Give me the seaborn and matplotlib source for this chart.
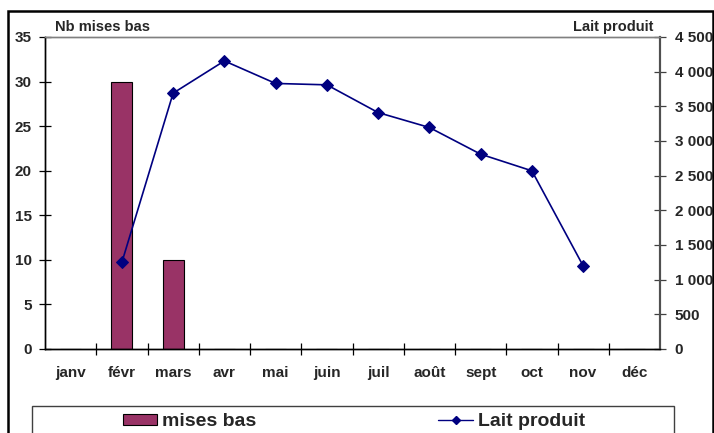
import numpy as np
import pandas as pd
import matplotlib
matplotlib.use("Agg")
import matplotlib.pyplot as plt
from matplotlib.patches import Rectangle
from matplotlib.lines import Line2D
from matplotlib.ticker import FuncFormatter, FixedLocator
import seaborn as sns

months = ["janv", "févr", "mars", "avr", "mai", "juin", "juil", "août", "sept", "oct", "nov", "déc"]
mises_bas = [0, 30, 10, 0, 0, 0, 0, 0, 0, 0, 0, 0]
lait_produit = [np.nan, 1250, 3690, 4155, 3830, 3810, 3410, 3195, 2810, 2570, 1200, np.nan]
left_ticks = [0, 5, 10, 15, 20, 25, 30, 35]
right_ticks = [0, 500, 1000, 1500, 2000, 2500, 3000, 3500, 4000, 4500]

sns.set_theme(style="white")
plt.rcParams["font.family"] = ["Liberation Sans", "DejaVu Sans"]
plt.rcParams["font.weight"] = "bold"

W, H = 714, 433
fig = plt.figure(figsize=(W / 100, H / 100), dpi=100)
fig.patch.set_facecolor("white")

def fx(px):
    return px / W

def fy(py):
    return 1 - py / H

ax = fig.add_axes([fx(45), fy(349), fx(660) - fx(45), fy(37) - fy(349)])
bar_color = "#993366"
df_bar = pd.DataFrame({"mois": months, "mises": mises_bas})
sns.barplot(data=df_bar, x="mois", y="mises", order=months, color=bar_color,
            width=0.41, edgecolor="black", linewidth=0.8, saturation=1, ax=ax)

ax2 = ax.twinx()
df_line = pd.DataFrame({"pos": np.arange(len(months)), "lait": lait_produit}).dropna()
sns.lineplot(data=df_line, x="pos", y="lait", color="#000080", marker="D",
             markersize=6, markeredgecolor="#000080", linewidth=1.2, ax=ax2, sort=False)

ax.set_xlim(-0.5, 11.5)
ax.set_ylim(0, 35)
ax2.set_ylim(0, 4500)

ax.set_yticks(left_ticks)
ax2.set_yticks(right_ticks)
ax2.yaxis.set_major_formatter(FuncFormatter(lambda v, p: f"{int(v):,}".replace(",", " ")))

# category boundaries as major ticks, labels on minor ticks at centers
ax.xaxis.set_major_locator(FixedLocator(np.arange(0.5, 11, 1.0)))
ax.xaxis.set_minor_locator(FixedLocator(np.arange(12)))
ax.set_xticklabels([], minor=False)
ax.set_xticklabels(months, minor=True)
ax.tick_params(axis="x", which="major", direction="inout", length=9, width=0.9, color="black", bottom=True)
ax.tick_params(axis="x", which="minor", length=0, pad=12, labelsize=11, bottom=True)
ax.tick_params(axis="y", direction="inout", length=9, width=0.9, color="black", pad=5, labelsize=11, left=True)
ax2.tick_params(axis="y", direction="inout", length=9, width=0.9, color="#404040", pad=6, labelsize=11, right=True)
for lbl in ax.get_xticklabels(minor=True) + ax.get_yticklabels() + ax2.get_yticklabels():
    lbl.set_fontweight("bold")

ax.set_xlabel("")
ax.set_ylabel("")
ax2.set_xlabel("")
ax2.set_ylabel("")

for a in (ax, ax2):
    a.spines["top"].set_color("#808080")
    a.spines["top"].set_linewidth(1.0)
    a.spines["left"].set_color("black")
    a.spines["left"].set_linewidth(1.0)
    a.spines["bottom"].set_color("black")
    a.spines["bottom"].set_linewidth(1.0)
    a.spines["right"].set_color("#505050")
    a.spines["right"].set_linewidth(1.5)
ax2.grid(False)
ax.grid(False)

fig.text(fx(55), fy(31), "Nb mises bas", fontsize=10.5, fontweight="bold", ha="left", va="baseline")
fig.text(fx(653), fy(31), "Lait produit", fontsize=10.5, fontweight="bold", ha="right", va="baseline")

# outer chart border
fig.patches.append(Rectangle((fx(8), fy(460)), fx(713) - fx(8), fy(11) - fy(460),
                             transform=fig.transFigure, fill=False, edgecolor="black",
                             linewidth=1.8, clip_on=False))
# legend box
fig.patches.append(Rectangle((fx(32), fy(460)), fx(674) - fx(32), fy(406) - fy(460),
                             transform=fig.transFigure, fill=False, edgecolor="#404040",
                             linewidth=1.0, clip_on=False))

h_bar = Rectangle((0, 0), 1, 1, facecolor=bar_color, edgecolor="black", linewidth=0.8)
h_line = Line2D([0], [0], color="#000080", marker="D", markersize=4, linewidth=1.0)
leg = fig.legend([h_bar, h_line], ["mises bas", "Lait produit"], ncol=2,
                 loc="center left", bbox_to_anchor=(fx(124) - 0.002, fy(422)),
                 frameon=False, prop={"size": 14, "weight": "bold"},
                 handlelength=1.75, handleheight=0.5, handletextpad=0.3,
                 columnspacing=9.35, borderpad=0, borderaxespad=0)

fig.savefig("out.png", dpi=100, facecolor="white")
